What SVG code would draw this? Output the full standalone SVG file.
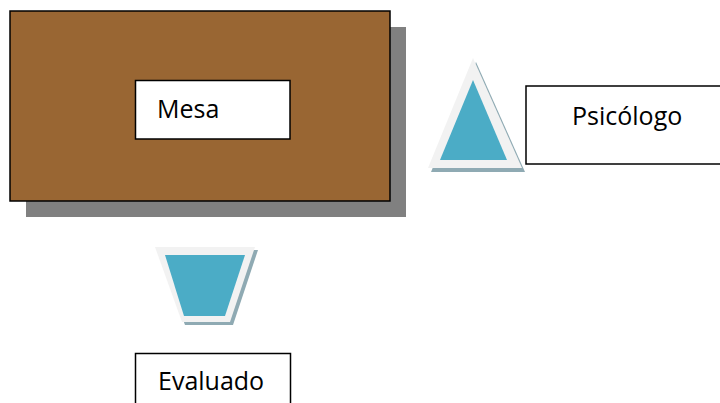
<svg xmlns="http://www.w3.org/2000/svg" width="720" height="403" viewBox="0 0 720 403">
<style>
.lbl{fill:#fff;stroke:#000;stroke-width:1.5}
.txt{font-family:"Open Sans","Noto Sans",sans-serif;font-size:25px;fill:#000}
.light{fill:#f2f2f2}
.teal{fill:#4bacc6}
.shd{fill:#8faab3}
</style>
<rect width="720" height="403" fill="#fff"/>
<g id="mesa">
<rect x="26" y="27" width="380" height="190" fill="#808080"/>
<rect x="10" y="11" width="380" height="190" fill="#996633" stroke="#000" stroke-width="1.5"/>
<rect class="lbl" x="135.5" y="80.5" width="154.5" height="58.5"/>
<text class="txt" x="157" y="118">Mesa</text>
</g>
<g id="psicologo-icon">
<polygon class="shd" points="476,62 431,172 525,172"/>
<polygon class="light" points="473,58 428,168 522,168"/>
<polygon class="teal" points="473,80 440,160 507,160"/>
</g>
<g id="psicologo">
<rect class="lbl" x="526" y="86" width="200" height="78"/>
<text class="txt" x="572" y="125">Psicólogo</text>
</g>
<g id="evaluado-icon">
<polygon class="shd" points="158,250 258,250 233,325 185,325"/>
<polygon class="light" points="155,247 255,247 230,322 182,322"/>
<polygon class="teal" points="165,255 245,255 225,316 184,316"/>
</g>
<g id="evaluado">
<rect class="lbl" x="135.5" y="353.5" width="155" height="60"/>
<text class="txt" x="158" y="390">Evaluado</text>
</g>
<g id="connectors"/>
</svg>
